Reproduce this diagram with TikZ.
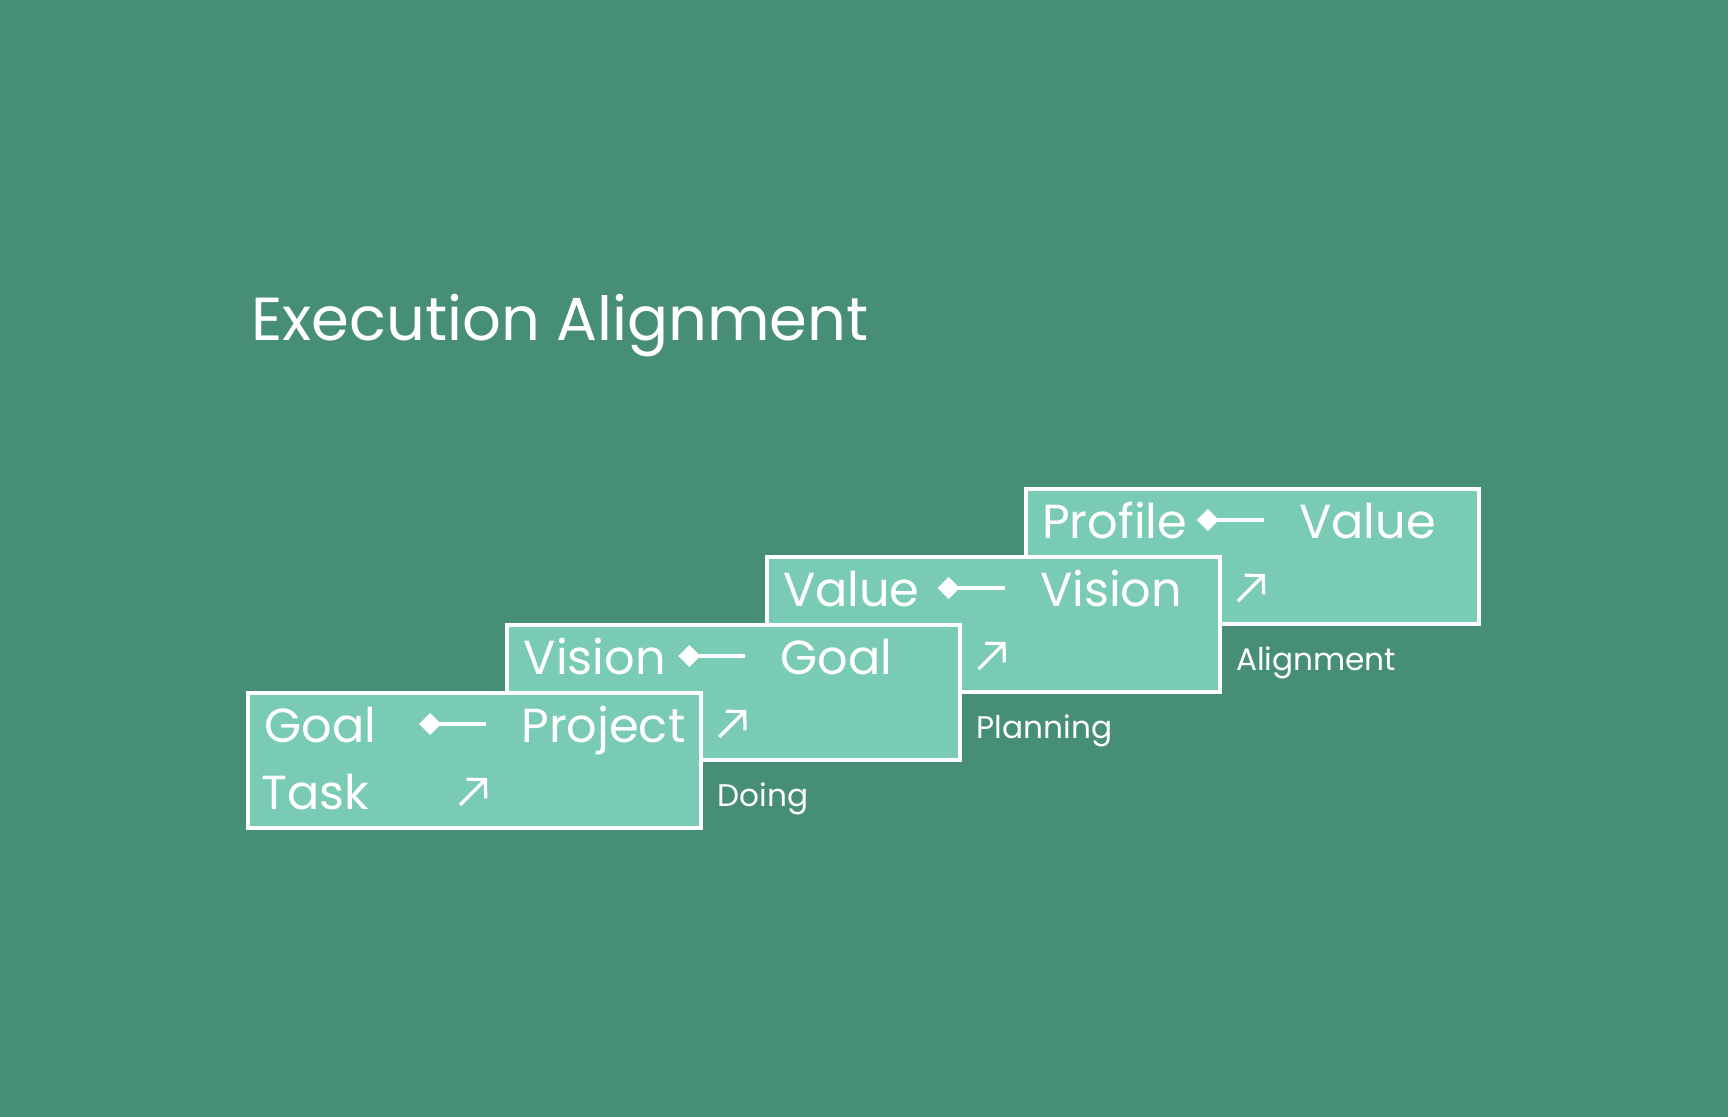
\documentclass[tikz,border=0pt]{standalone}
\usepackage{fontspec}
\setmainfont{Poppins}
\usetikzlibrary{arrows.meta}
\definecolor{bggreen}{HTML}{468F74}
\definecolor{cardgreen}{HTML}{7ACBB4}
\tikzset{
  card/.style={draw=white,fill=cardgreen,line width=2pt,minimum width=226.5pt,minimum height=67.5pt,inner sep=0pt,outer sep=0pt,anchor=north west},
  word/.style={text=white,inner sep=0pt,anchor=base west,font=\fontsize{23.9}{28}\selectfont},
  tag/.style={text=white,inner sep=0pt,anchor=base west,font=\fontsize{15.6}{18}\selectfont},
  link/.style={draw=white,line width=1.65pt,-{Diamond[length=11pt,width=11pt]}},
  upto/.style={draw=white,line width=1.65pt,-{Straight Barb[length=6.5pt,width=13.5pt]}},
}
\begin{document}
\begin{tikzpicture}[x=.5pt,y=-.5pt]
\fill[bggreen] (0,0) rectangle (1728,1117);
\node[text=white,inner sep=0pt,anchor=base west,font=\fontsize{30.4}{34}\selectfont] (title) at (251,341) {Execution Alignment};
% cards, back to front
\foreach \i/\l/\r in {3/Profile/Value,2/Value/Vision,1/Vision/Goal,0/Goal/Project}{
  \node[card] (card\i) at ({248+259.3*\i},{693-68*\i}) {};
  \node[word] (left\i) at ([shift={(16,49)}]card\i.north west) {\l};
  \node[word] (right\i) at ([shift={(273,49)}]card\i.north west) {\r};
  \coordinate (tail\i) at ([shift={(238,31)}]card\i.north west);
  \coordinate (head\i) at ([shift={(171,31)}]card\i.north west);
  \draw[link] (tail\i) -- (head\i);
  \coordinate (from\i) at ([shift={(212,112)}]card\i.north west);
  \coordinate (to\i) at ([shift={(239,85)}]card\i.north west);
  \draw[upto] (from\i) -- (to\i);
}
\node[word] (task) at ([shift={(13,116)}]card0.north west) {Task};
\foreach \i/\t in {0/Doing,1/Planning,2/Alignment}\node[tag] (tag\i) at ([shift={(16,113)}]card\i.north east) {\t};
\end{tikzpicture}
\end{document}
